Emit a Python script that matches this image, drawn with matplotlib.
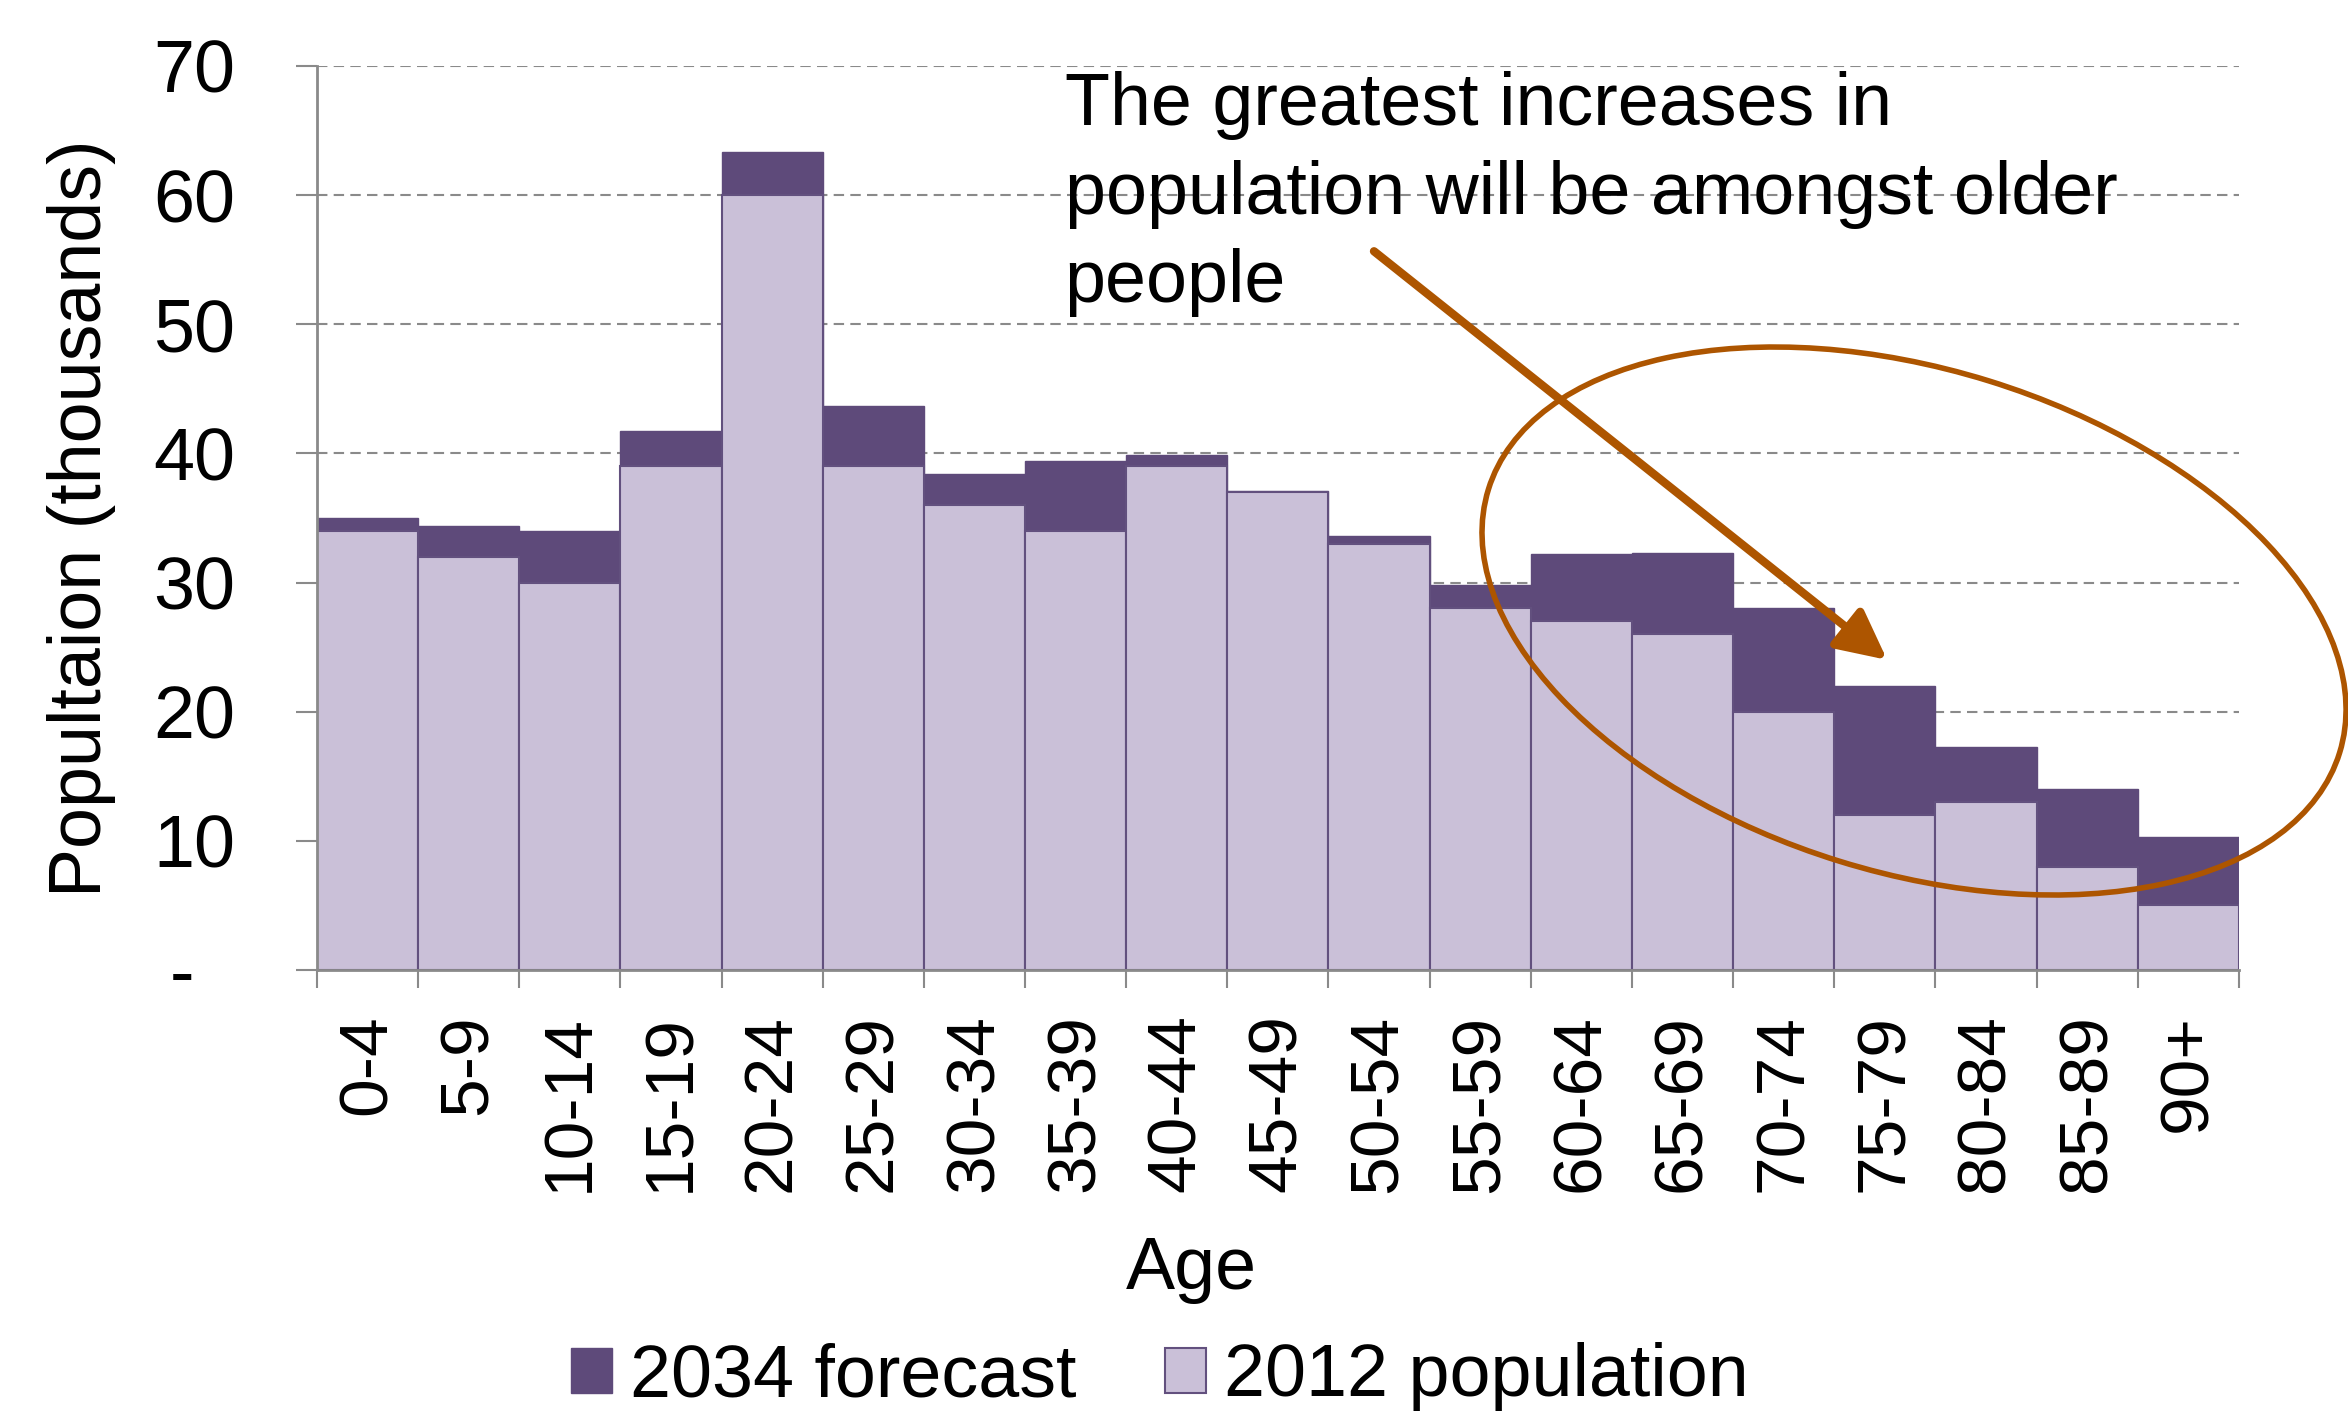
import matplotlib
matplotlib.use('Agg')
import matplotlib.pyplot as plt
from matplotlib.patches import Ellipse
from matplotlib.transforms import IdentityTransform
import numpy as np


### Data

age_groups = ['0-4', '5-9', '10-14', '15-19', '20-24', '25-29', '30-34', '35-39',
              '40-44', '45-49', '50-54', '55-59', '60-64', '65-69', '70-74',
              '75-79', '80-84', '85-89', '90+']
pop_2012 = [34, 32, 30, 39, 60, 39, 36, 34, 39, 37, 33, 28, 27, 26, 20, 12, 13, 8, 5]
forecast_2034 = [35.0, 34.4, 34.0, 41.7, 63.3, 43.7, 38.4, 39.4, 39.9, 37.1, 33.6,
                 29.8, 32.2, 32.3, 28.0, 22.0, 17.3, 14.0, 10.3]
y_ticks = [0, 10, 20, 30, 40, 50, 60, 70]
y_tick_labels = ['-  ', '10', '20', '30', '40', '50', '60', '70']
note = 'The greatest increases in\npopulation will be amongst older\npeople'


### Style

plt.rcParams['font.family'] = ['Liberation Sans', 'DejaVu Sans']
dark = '#5E4A7A'
light = '#CAC0D8'
edge = '#62507E'
gray = '#8A8A8A'
orange = '#AD5500'


### Plot

fig = plt.figure(figsize=(23.48, 14.21), dpi=100)
ax = fig.add_axes([0.135, 0.3174, 0.8185, 0.6362])

x = np.arange(len(age_groups))
bars_2034 = ax.bar(x, forecast_2034, width=1.0, color=dark, edgecolor=dark,
                   linewidth=1, label='2034 forecast', zorder=2)
bars_2012 = ax.bar(x, pop_2012, width=1.0, color=light, edgecolor=edge,
                   linewidth=1.5, label='2012 population', zorder=3)

ax.set_xlim(-0.5, len(age_groups) - 0.5)
ax.set_ylim(0, 70)

ax.set_yticks(y_ticks)
ax.set_yticklabels(y_tick_labels)
ax.tick_params(axis='y', length=15, width=1.5, color=gray, pad=44, labelsize=53)

ax.set_xticks(x)
ax.set_xticklabels(age_groups, rotation=90, va='top', ha='center')
ax.set_xticks(np.arange(-0.5, len(age_groups)), minor=True)
ax.tick_params(axis='x', which='major', length=0, pad=32, labelsize=50)
ax.tick_params(axis='x', which='minor', length=13, width=1.5, color=gray)

ax.yaxis.grid(True, color=gray, linestyle=(0, (5, 3)), linewidth=1.5)
ax.set_axisbelow(True)

for side in ['top', 'right']:
    ax.spines[side].set_visible(False)
for side in ['left', 'bottom']:
    ax.spines[side].set_color(gray)
    ax.spines[side].set_linewidth(2)
    ax.spines[side].set_zorder(4)

ax.set_ylabel('Popultaion (thousands)', fontsize=53)
ax.yaxis.set_label_coords(-0.1224, 0.5)
ax.yaxis.label.set_va('center')
ax.set_xlabel('Age', fontsize=53)
ax.xaxis.set_label_coords(0.455, -0.331)
ax.xaxis.label.set_va('center')

# Annotation
ax.text(0.389, 69.6, note, transform=ax.get_yaxis_transform(), fontsize=53,
        ha='left', va='top', linespacing=1.36)

ax.annotate('', xy=(0.817, 0.343), xytext=(0.550, 0.795), xycoords='axes fraction',
            annotation_clip=False,
            arrowprops=dict(arrowstyle='-|>,head_length=1.5,head_width=0.75',
                            color=orange, lw=6, mutation_scale=20,
                            shrinkA=0, shrinkB=0))

cx, cy = ax.transAxes.transform((0.831, 0.386))
ring = Ellipse((cx, cy), width=891, height=503, angle=-17.2, fill=False,
               edgecolor=orange, linewidth=4, transform=IdentityTransform(),
               clip_on=False, zorder=5)
ax.add_patch(ring)

fig.legend([bars_2034, bars_2012], ['2034 forecast', '2012 population'],
           loc='center', bbox_to_anchor=(0.494, 0.031), ncol=2, frameon=False,
           fontsize=53, handlelength=0.55, handleheight=0.55,
           handletextpad=0.25, columnspacing=1.2)

fig.savefig('out.png', dpi=100)
plt.close(fig)
